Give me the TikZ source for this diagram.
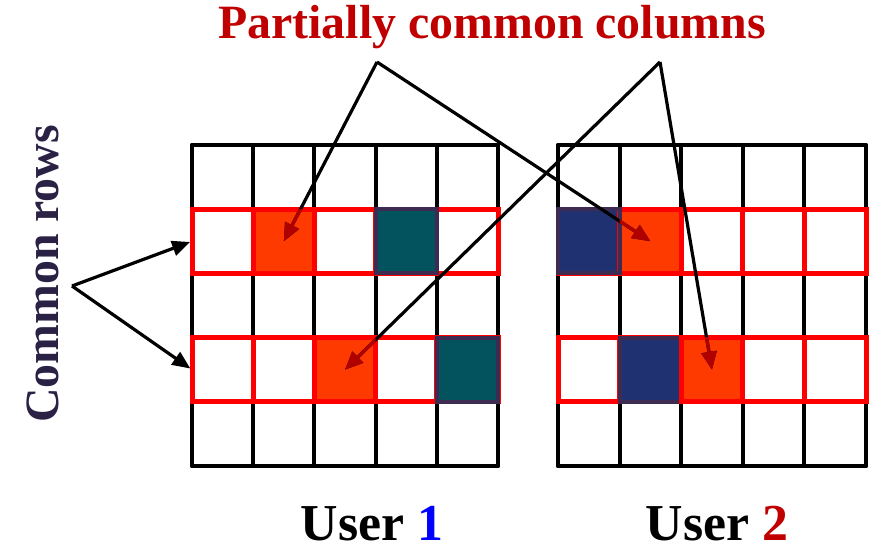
\documentclass[tikz,border=0pt]{standalone}
\usepackage{fontspec}
\setmainfont{Liberation Serif}
\usetikzlibrary{arrows.meta}
\definecolor{cellorange}{HTML}{FF3A00}
\definecolor{cellteal}{HTML}{03535F}
\definecolor{cellnavy}{HTML}{1F3170}
\definecolor{cellborder}{HTML}{3D2B52}
\definecolor{titlered}{HTML}{C00000}
\definecolor{rowsnavy}{HTML}{2B2145}
\definecolor{tipred}{HTML}{B00000}
\definecolor{one}{HTML}{0000FF}
\tikzset{
  gridline/.style={line width=4bp, black, line cap=round},
  redcell/.style={draw=red, fill=white, line width=5bp, inner sep=0pt, outer sep=0pt, minimum height=64.2bp},
  colcell/.style={line width=4bp, inner sep=0pt, outer sep=0pt, minimum height=64.2bp},
  arr/.style={line width=3.2bp, black, -{Triangle[length=18bp,width=15bp]}},
  arrred/.style={line width=3.2bp, tipred, -{Triangle[length=18bp,width=15bp]}},
  bigtext/.style={font=\bfseries\fontsize{48}{48}\selectfont},
  usertext/.style={font=\bfseries\fontsize{52}{52}\selectfont, anchor=base, inner sep=0pt},
}
\begin{document}
\begin{tikzpicture}[x=1bp,y=-1bp]
\useasboundingbox (0,0) rectangle (874,546);
% grids
\foreach \gx/\gw/\gid in {192/61.2/L, 558/61.6/R} {
  \foreach \i in {0,...,5}
    \draw[gridline] ({\gx+\i*\gw},145) -- ({\gx+\i*\gw},466);
  \foreach \j in {0,...,5}
    \draw[gridline] (\gx,{145+\j*64.2}) -- ({\gx+5*\gw},{145+\j*64.2});
  \foreach \j in {1,3}
    \foreach \i in {0,...,4}
      \node[redcell, minimum width=\gw bp] (\gid-\j-\i) at ({\gx+(\i+0.5)*\gw},{145+(\j+0.5)*64.2}) {};
}
% coloured cells
\node[colcell, draw=cellborder, fill=cellteal, minimum width=61.2bp] (T1) at (L-1-3) {};
\node[colcell, draw=cellborder, fill=cellteal, minimum width=61.2bp] (T2) at (L-3-4) {};
\node[colcell, draw=cellborder, fill=cellnavy, minimum width=61.6bp] (N1) at (R-1-0) {};
\node[colcell, draw=cellborder, fill=cellnavy, minimum width=61.6bp] (N2) at (R-3-1) {};
\node[colcell, draw=red, line width=5bp, fill=cellorange, minimum width=61.2bp] (O1) at (L-1-1) {};
\node[colcell, draw=red, line width=5bp, fill=cellorange, minimum width=61.2bp] (O2) at (L-3-2) {};
\node[colcell, draw=red, line width=5bp, fill=cellorange, minimum width=61.6bp] (O3) at (R-1-1) {};
\node[colcell, draw=red, line width=5bp, fill=cellorange, minimum width=61.6bp] (O4) at (R-3-2) {};
\draw[colcell, draw=cellborder] (N1.north west) rectangle (N1.south east);
% texts
\node[bigtext, text=titlered, anchor=base] (title) at (492,39) {Partially common columns};
\node[bigtext, text=rowsnavy, rotate=90, anchor=base] (rows) at (58,274) {Common rows};
\node[usertext] (u1) at (372,540) {User \textcolor{one}{1}};
\node[usertext] (u2) at (717,540) {User \textcolor{titlered}{2}};
% apexes
\coordinate (apA) at (377,62);
\coordinate (apB) at (660,62);
\coordinate (apR) at (72,286);
% arrows
\draw[arr] (apA) -- (O1.center);
\draw[arr] (apA) -- (O3.center);
\draw[arr] (apB) -- (O2.center);
\draw[arr] (apB) -- (O4.center);
\foreach \o/\ap in {O1/apA, O3/apA, O2/apB, O4/apB} {
  \begin{scope}
    \clip (\o.north west) rectangle (\o.south east);
    \draw[arrred] (\ap) -- (\o.center);
  \end{scope}
}
\draw[arr, shorten >=2bp] (apR) -- (L-1-0.west);
\draw[arr, shorten >=2bp] (apR) -- (L-3-0.west);
\end{tikzpicture}
\end{document}
